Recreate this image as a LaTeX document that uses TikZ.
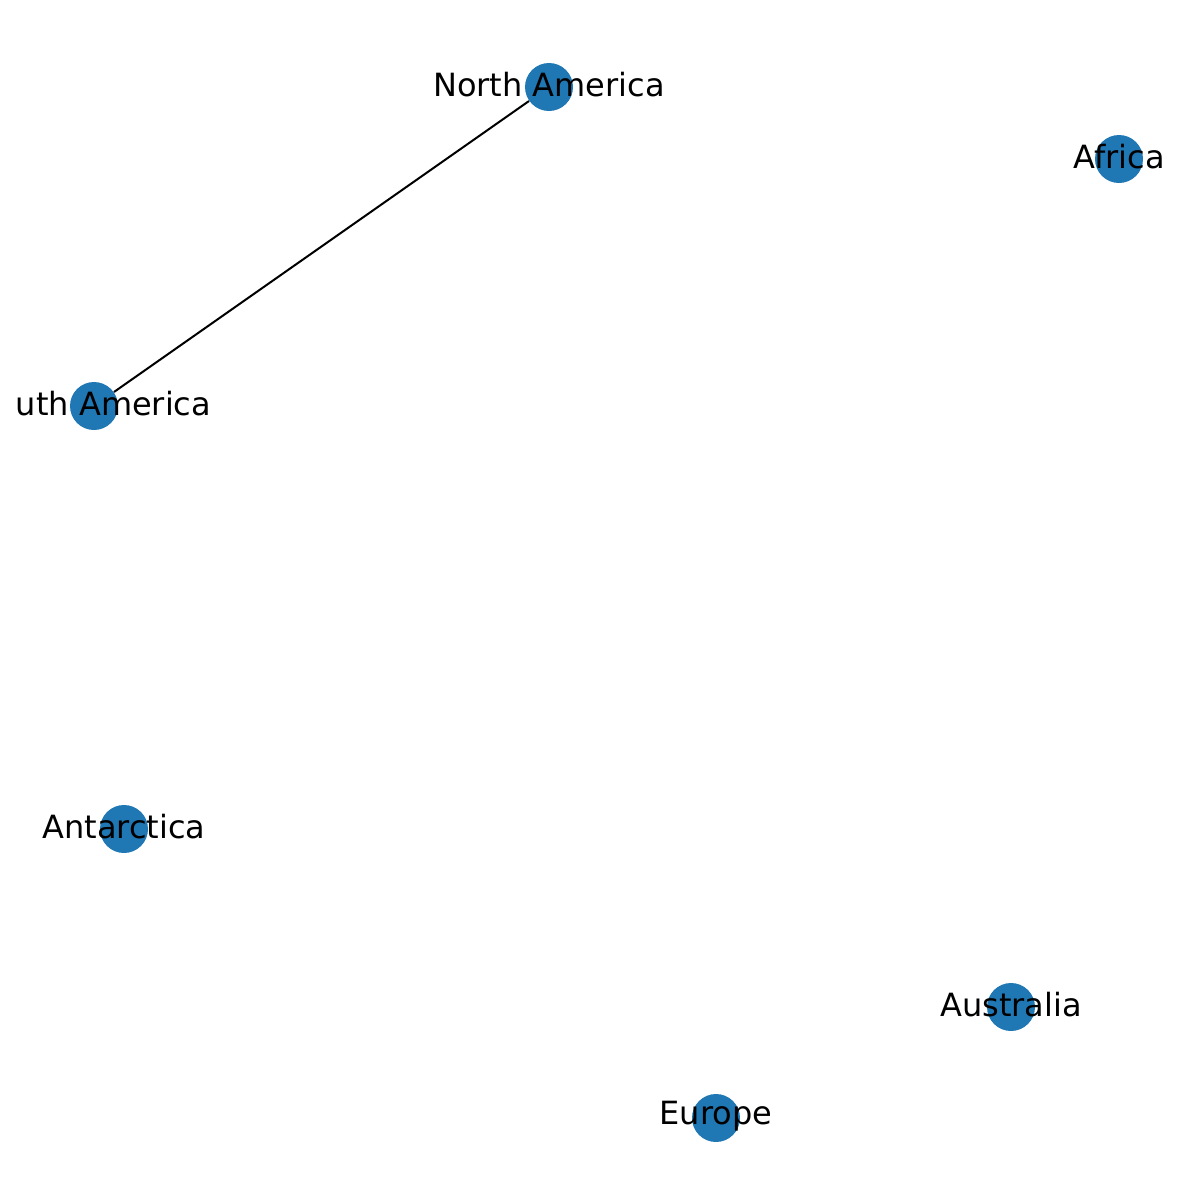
\documentclass[tikz,border=0pt]{standalone}
\usepackage{fontspec}
\setmainfont{DejaVu Sans}
\definecolor{nodeblue}{HTML}{1F77B4}
\begin{document}
\begin{tikzpicture}[x=0.5pt,y=-0.5pt,
  vertex/.style={circle,fill=nodeblue,minimum size=24pt,inner sep=0pt},
  lbl/.style={font=\fontsize{16}{19}\selectfont,inner sep=0pt,text=black,yshift=1pt},
  edge/.style={draw=black,line width=1pt}]
\useasboundingbox (0,0) rectangle (1190,1190);
\clip (0,0) rectangle (1190,1190);
\node[vertex] (na) at (549,87) {};
\node[vertex] (af) at (1119,159) {};
\node[vertex] (sa) at (94,406) {};
\node[vertex] (an) at (124,829) {};
\node[vertex] (au) at (1011,1007) {};
\node[vertex] (eu) at (716,1118) {};
\draw[edge] (na) -- (sa);
\node[lbl] (nal) at (na) {North America};
\node[lbl] (afl) at (af) {Africa};
\node[lbl,anchor=east,xshift=58.8pt] (sal) at (sa) {uth America};
\node[lbl] (anl) at (an) {Antarctica};
\node[lbl] (aul) at (au) {Australia};
\node[lbl] (eul) at (eu) {Europe};
\end{tikzpicture}
\end{document}
